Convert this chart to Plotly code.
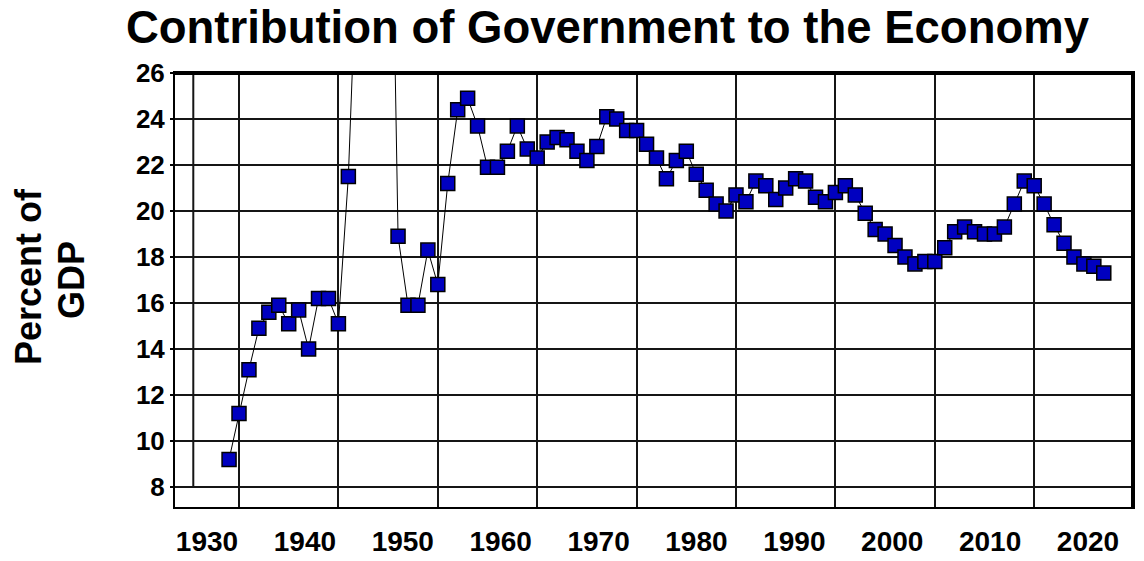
import plotly.graph_objects as go

# Government consumption + investment as a share of GDP, 1929-2017
years = list(range(1929, 2018))
pct_gdp = [
    9.2, 11.2, 13.1, 14.9, 15.6, 15.9, 15.1, 15.7, 14.0, 16.2,   # 1929-1938
    16.2, 15.1, 21.5, 33.0, 46.0, 46.0, 44.0, 18.9, 15.9, 15.9,  # 1939-1948
    18.3, 16.8, 21.2, 24.4, 24.9, 23.7, 21.9, 21.9, 22.6, 23.7,  # 1949-1958
    22.7, 22.3, 23.0, 23.2, 23.1, 22.6, 22.2, 22.8, 24.1, 24.0,  # 1959-1968
    23.5, 23.5, 22.9, 22.3, 21.4, 22.2, 22.6, 21.6, 20.9, 20.3,  # 1969-1978
    20.0, 20.7, 20.4, 21.3, 21.1, 20.5, 21.0, 21.4, 21.3, 20.6,  # 1979-1988
    20.4, 20.8, 21.1, 20.7, 19.9, 19.2, 19.0, 18.5, 18.0, 17.7,  # 1989-1998
    17.8, 17.8, 18.4, 19.1, 19.3, 19.1, 19.0, 19.0, 19.3, 20.3,  # 1999-2008
    21.3, 21.1, 20.3, 19.4, 18.6, 18.0, 17.7, 17.6, 17.3,        # 2009-2017
]

decade_labels = [1930, 1940, 1950, 1960, 1970, 1980, 1990, 2000, 2010, 2020]
grid_years = [1930, 1940, 1950, 1960, 1970, 1980, 1990, 2000, 2010]
y_ticks = [8, 10, 12, 14, 16, 18, 20, 22, 24, 26]

FONT = "Liberation Sans, Arial, sans-serif"

fig = go.Figure()

fig.add_trace(go.Scatter(
    x=years, y=pct_gdp, mode="lines+markers",
    line=dict(color="black", width=1),
    marker=dict(symbol="square", size=14, color="#0000c0",
                line=dict(color="black", width=1.5)),
    cliponaxis=True, showlegend=False, hoverinfo="x+y",
))

# label-only axis carrying the decade captions along the bottom
fig.add_trace(go.Scatter(x=[], y=[], xaxis="x2", yaxis="y", showlegend=False))

fig.update_layout(
    width=1144, height=561,
    margin=dict(l=175, r=11, t=73, b=54, autoexpand=False),
    paper_bgcolor="white", plot_bgcolor="white",
    title=dict(text="Contribution of Government to the Economy",
               x=0.531, xanchor="center", xref="container",
               y=0.952, yanchor="middle", yref="container",
               font=dict(family=FONT, size=45.5, color="black", weight="bold")),
    xaxis=dict(range=[1923.56, 2019.94], tickmode="array", tickvals=grid_years,
               showticklabels=False, ticks="", automargin=False,
               showgrid=True, gridcolor="#151515", gridwidth=2,
               zeroline=False, showline=True, mirror=True,
               linecolor="black", linewidth=2),
    xaxis2=dict(overlaying="x", anchor="y", side="bottom", automargin=False,
                range=[1926.73, 2024.60], tickmode="array",
                tickvals=decade_labels, ticktext=[str(v) for v in decade_labels],
                showgrid=False, zeroline=False, showline=False, ticks="",
                ticklabelstandoff=15,
                tickfont=dict(family=FONT, size=28, color="black", weight="bold")),
    yaxis=dict(range=[7.13, 26], tickmode="array", tickvals=y_ticks,
               automargin=False,
               showgrid=True, gridcolor="#151515", gridwidth=2,
               zeroline=False, showline=True, mirror=True,
               linecolor="black", linewidth=2,
               ticks="outside", ticklen=3, tickwidth=2, tickcolor="black",
               tickfont=dict(family=FONT, size=26, color="black", weight="bold")),
    shapes=[
        # inner frame line at the start of the data area
        dict(type="line", xref="x", yref="y", x0=1925.4, x1=1925.4, y0=8, y1=26,
             line=dict(color="#151515", width=2), layer="below"),
        # heavier top and right border
        dict(type="line", xref="paper", yref="paper", x0=0, x1=1, y0=1, y1=1,
             line=dict(color="black", width=4)),
        dict(type="line", xref="paper", yref="paper", x0=1, x1=1, y0=0, y1=1,
             line=dict(color="black", width=4)),
    ],
    annotations=[
        dict(text="Percent of", xref="paper", yref="paper",
             x=(28 - 175) / 958, y=(507 - 277) / 434, xanchor="center", yanchor="middle",
             textangle=-90, showarrow=False,
             font=dict(family=FONT, size=36, color="black", weight="bold")),
        dict(text="GDP", xref="paper", yref="paper",
             x=(71 - 175) / 958, y=(507 - 280) / 434, xanchor="center", yanchor="middle",
             textangle=-90, showarrow=False,
             font=dict(family=FONT, size=36, color="black", weight="bold")),
    ],
)

fig.write_html("out.html")
